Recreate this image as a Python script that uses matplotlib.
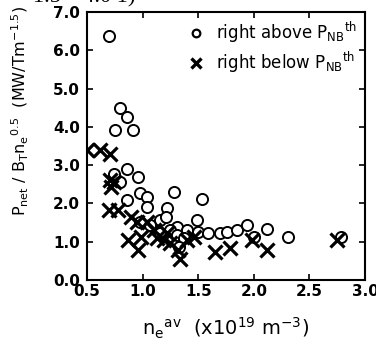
import matplotlib
matplotlib.use("Agg")
import matplotlib.pyplot as plt
from matplotlib.lines import Line2D

plt.rcParams['font.family'] = ['DejaVu Sans']
plt.rcParams['mathtext.fontset'] = 'dejavusans'

# right above P_NB^th (circles)
above_x = [0.70, 0.80, 0.86, 0.75, 0.91, 0.86, 0.74, 0.96, 0.80, 0.98,
           1.04, 0.86, 1.04, 1.28, 1.53, 1.22, 0.98, 1.16, 1.21, 1.49,
           1.31, 1.40, 1.50, 1.59, 1.70, 1.76, 1.85, 1.94, 2.12, 2.00,
           2.31, 2.78, 1.25, 1.31, 1.16, 1.07, 1.37, 1.33]
above_y = [6.37, 4.50, 4.26, 3.93, 3.93, 2.91, 2.78, 2.68, 2.57, 2.26,
           2.17, 2.09, 1.91, 2.29, 2.11, 1.87, 1.52, 1.57, 1.65, 1.57,
           1.39, 1.30, 1.26, 1.22, 1.22, 1.26, 1.30, 1.43, 1.32, 1.13,
           1.13, 1.13, 1.30, 1.17, 1.22, 1.43, 1.09, 0.87]

# right below P_NB^th (crosses)
below_x = [0.50, 0.62, 0.71, 0.71, 0.72, 0.74, 0.70, 0.78, 0.90, 0.95,
           0.87, 0.96, 0.99, 1.04, 1.10, 1.13, 1.19, 1.22, 1.25, 1.34,
           1.40, 1.46, 1.65, 1.79, 1.98, 2.12, 2.75, 1.32]
below_y = [3.39, 3.39, 3.30, 2.61, 2.43, 2.57, 1.83, 1.83, 1.65, 1.52,
           1.04, 0.78, 1.13, 1.52, 1.30, 1.09, 1.04, 1.22, 0.96, 0.55,
           1.04, 1.13, 0.74, 0.83, 1.04, 0.78, 1.04, 0.78]

xticks = [0.5, 1.0, 1.5, 2.0, 2.5, 3.0]
yticks = [0.0, 1.0, 2.0, 3.0, 4.0, 5.0, 6.0, 7.0]

fig = plt.figure(figsize=(3.76, 3.46), dpi=100)
ax = fig.add_axes([0.2314, 0.1908, 0.7393, 0.7745])

ax.plot(above_x, above_y, 'o', mfc='white', mec='black', mew=1.4, ms=8,
        ls='none', zorder=2)
ax.plot(below_x, below_y, 'x', color='black', mew=2.3, ms=9.5, ls='none',
        zorder=3)

ax.set_xlim(0.5, 3.0)
ax.set_ylim(0.0, 7.0)
ax.set_xticks(xticks)
ax.set_yticks(yticks)
ax.set_xticklabels([f'{v:.1f}' for v in xticks], fontweight='bold', fontsize=11)
ax.set_yticklabels([f'{v:.1f}' for v in yticks], fontweight='bold', fontsize=11)
ax.tick_params(direction='in', length=4, width=1.2, top=True, right=True)
ax.tick_params(axis='y', pad=5)
ax.tick_params(axis='x', pad=3)
for s in ax.spines.values():
    s.set_linewidth(1.5)

ax.set_xlabel(r'n$_{\rm e}$$^{\rm av}$  (x10$^{19}$ m$^{-3}$)', fontsize=14,
              labelpad=12)
ax.set_ylabel(r'P$_{\rm net}$ / B$_{\rm T}$n$_{\rm e}$$^{0.5}$  (MW/Tm$^{-1.5}$)',
              fontsize=11.5)
ax.yaxis.set_label_coords(-0.2, 0.63)

handles = [
    Line2D([], [], marker='o', ls='none', mfc='white', mec='black', mew=1.6, ms=5.5),
    Line2D([], [], marker='x', ls='none', color='black', mew=2.4, ms=6.5),
]
labels = [r'right above P$_{\rm NB}$$^{\rm th}$',
          r'right below P$_{\rm NB}$$^{\rm th}$']
ax.legend(handles, labels, loc='upper right', frameon=False, fontsize=12,
          handlelength=0.7, handletextpad=0.9, borderaxespad=0.05,
          labelspacing=0.3)

# cut-off caption line at the very top of the scan
fig.text(33 / 376, 344 / 346, '1.5 \u2013 4.0 1)', family='Liberation Serif',
         fontsize=16, va='baseline', ha='left')

fig.savefig('out.png', dpi=100)
